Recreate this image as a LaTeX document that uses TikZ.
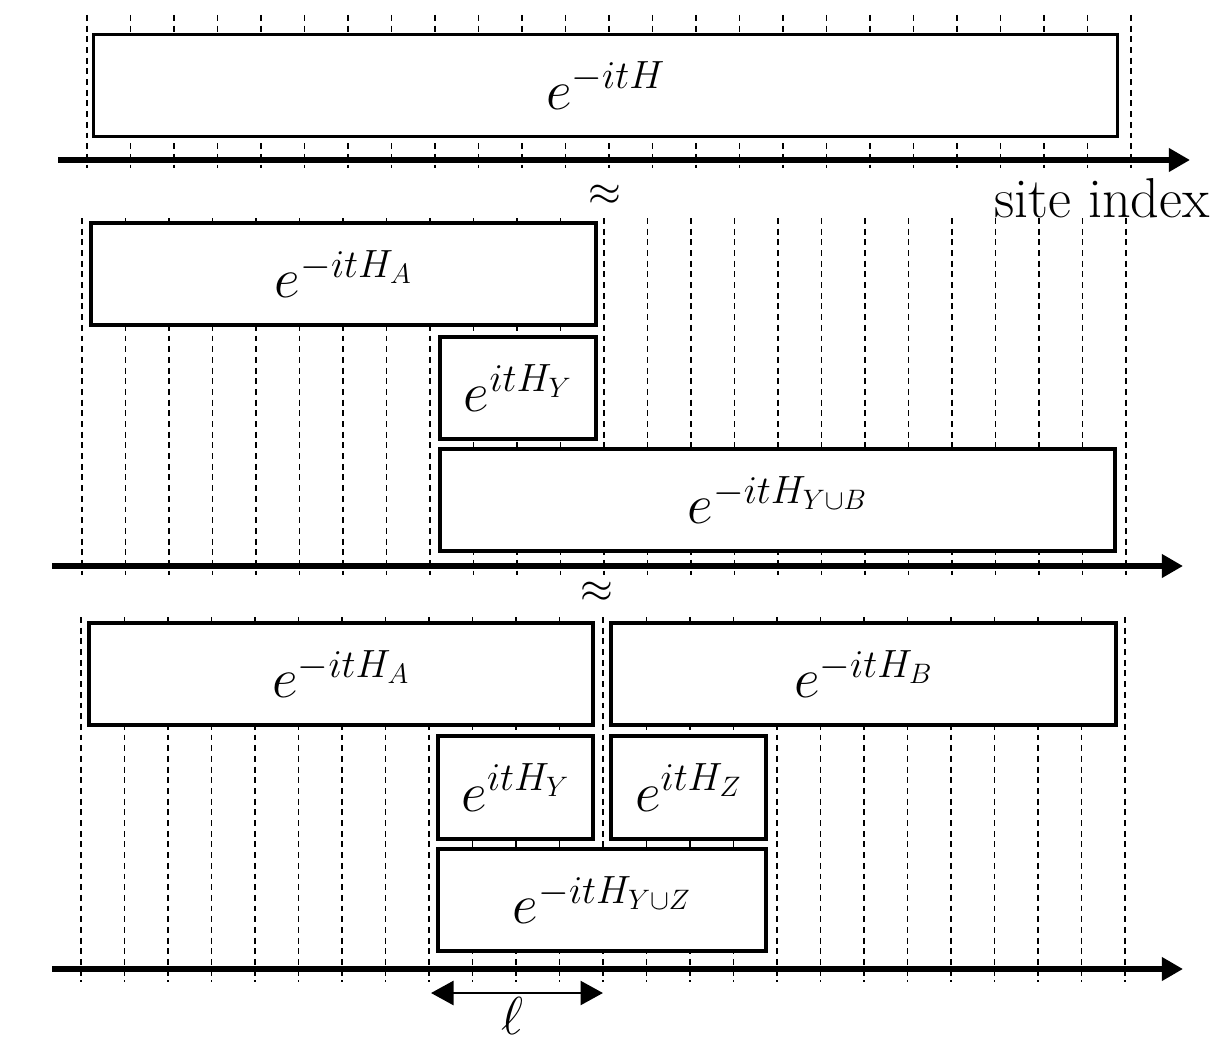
\documentclass[tikz,border=0pt]{standalone}
\usepackage{fix-cm}
\usepackage{amsmath}
\usetikzlibrary{arrows.meta}

\begin{document}
\begin{tikzpicture}[x=0.025cm, y=-0.025cm,
		site/.style = {line width = 1pt, dash pattern = on 4.2pt off 3.4pt},
		axis/.style = {line width = 3.8pt, -{Triangle[length=15pt,width=16pt]}},
		gate/.style = {draw, fill=white, line width = 2.3pt, inner sep = 0pt,
			font = \fontsize{40}{48}\selectfont},
		big/.style = {inner sep = 0pt, font = \fontsize{40}{46}\selectfont}]
	\useasboundingbox (0,0) rectangle (1215,1044);
	
	% sites, one block of dashed lines per row
	\foreach \k in {0,...,24} {
		\draw[site] (87+43.5*\k,15) -- (87+43.5*\k,168);
		\draw[site] (82+43.5*\k,218) -- (82+43.5*\k,575);
		\draw[site] (81+43.5*\k,617) -- (81+43.5*\k,982);
	}
	
	% full evolution
	\node[gate, minimum width=25.6cm, minimum height=2.55cm] (H) at (605.5,85.5) {$e^{-itH}$};
	\coordinate (ax1s) at (58,160);
	\coordinate (ax1e) at (1190,160);
	\draw[axis] (ax1s) -- (ax1e);
	\node[big, anchor=base east] (site) at (1210,217) {site index};
	\node[big, font=\fontsize{30}{36}\selectfont] (approx1) at (605,195) {$\approx$};
	
	% first splitting
	\node[gate, minimum width=12.625cm, minimum height=2.55cm] (HA) at (343.5,274) {$e^{-itH_A}$};
	\node[gate, minimum width=3.9cm, minimum height=2.55cm] (HY) at (518,388) {$e^{itH_Y}$};
	\node[gate, minimum width=16.875cm, minimum height=2.55cm] (HYB) at (777.5,500) {$e^{-itH_{Y\cup B}}$};
	\coordinate (ax2s) at (52,566);
	\coordinate (ax2e) at (1183,566);
	\draw[axis] (ax2s) -- (ax2e);
	\node[big, font=\fontsize{30}{36}\selectfont] (approx2) at (597,592) {$\approx$};
	
	% second splitting
	\node[gate, minimum width=12.6cm, minimum height=2.55cm] (HA2) at (341,674) {$e^{-itH_A}$};
	\node[gate, minimum width=12.625cm, minimum height=2.55cm] (HB2) at (863.5,674) {$e^{-itH_B}$};
	\node[gate, minimum width=3.875cm, minimum height=2.575cm] (HY2) at (515.5,787.5) {$e^{itH_Y}$};
	\node[gate, minimum width=3.875cm, minimum height=2.575cm] (HZ2) at (688.5,787.5) {$e^{itH_Z}$};
	\node[gate, minimum width=8.2cm, minimum height=2.55cm] (HYZ2) at (602,900) {$e^{-itH_{Y\cup Z}}$};
	\coordinate (ax3s) at (52,969);
	\coordinate (ax3e) at (1183,969);
	\draw[axis] (ax3s) -- (ax3e);
	
	% buffer width
	\coordinate (ell1) at (431,993);
	\coordinate (ell2) at (603,993);
	\draw[line width = 2pt, {Triangle[length=16pt,width=17pt]}-{Triangle[length=16pt,width=17pt]}] (ell1) -- (ell2);
	\node[big, font=\fontsize{38}{44}\selectfont, anchor=base] (ell) at (512,1034) {$\ell$};
	
\end{tikzpicture}
\end{document}
